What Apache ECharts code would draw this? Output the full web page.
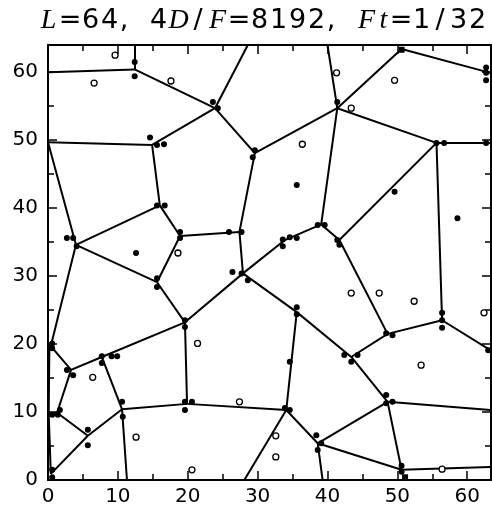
<!DOCTYPE html>
<html>
<head>
<meta charset="utf-8">
<script src="https://cdn.jsdelivr.net/npm/echarts@6/dist/echarts.min.js"></script>
<style>
  html, body { margin: 0; padding: 0; background: #fff; }
  #main { width: 492px; height: 508px; }
</style>
</head>
<body>
<div id="main"></div>
<script>
// title text
var titleText = 'L=64, 4D/F=8192, Ft=1/32';

// tick labels
var xTicks = [0, 10, 20, 30, 40, 50, 60];
var yTicks = [0, 10, 20, 30, 40, 50, 60];

// network vertices (x, y)
var vertices = {
  A: [0.1, 60.0], B: [12.4, 60.4], Btop: [12.4, 64], C: [23.9, 54.7], Ctop: [28.6, 64],
  D: [29.6, 48.1], E: [14.9, 49.3], F: [0, 49.7], G: [4.0, 34.6], H: [16.0, 40.4],
  I: [18.9, 35.9], J: [27.4, 36.5], K: [15.6, 29.1], M: [19.6, 23.2], N: [27.9, 30.4],
  O: [19.9, 11.2], P: [7.7, 18.1], Q: [3.3, 16.2], R: [0.4, 19.7], Rl: [0.2, 20.2],
  S: [1.3, 9.9], Sl: [0.1, 9.7], T: [5.7, 6.5], U: [0.4, 0.9], V: [10.6, 10.4],
  Vb: [11.3, 0], W: [34.1, 10.3], Wb: [28.1, 0], X: [35.6, 24.7], Y: [43.4, 18.1],
  Z: [48.6, 21.5], AA: [56.4, 23.5], AAr: [63.3, 19.1], AB: [55.6, 49.6], ABr: [63.3, 49.6],
  AC: [41.4, 54.7], AD: [50.6, 63.4], ADr: [63.3, 59.9], AE: [40.0, 64], AF: [39.1, 37.6],
  AG: [41.7, 35.3], AH: [33.9, 35.3], AI: [38.6, 5.4], AIb: [39.3, 0], AJ: [48.6, 11.5],
  AJr: [63.3, 10.3], AK: [50.6, 1.5], AKr: [63.3, 1.9]
};

// walls between vertices
var edges = [
  ['A','B'], ['B','Btop'], ['B','C'], ['C','Ctop'], ['C','D'], ['C','E'], ['F','E'],
  ['F','G'], ['E','H'], ['H','G'], ['H','I'], ['I','J'], ['D','J'], ['I','K'], ['G','K'],
  ['K','M'], ['M','N'], ['N','J'], ['M','O'], ['M','P'], ['P','Q'], ['Q','R'], ['R','G'],
  ['Q','S'], ['S','Sl'], ['Rl','Sl'], ['Sl','U'], ['S','T'], ['T','U'], ['T','V'], ['V','P'],
  ['V','O'], ['V','Vb'], ['O','W'], ['W','X'], ['X','N'], ['X','Y'], ['Y','Z'], ['Z','AA'],
  ['AA','AAr'], ['AA','AB'], ['AB','ABr'], ['AB','AC'], ['AC','AD'], ['AD','ADr'],
  ['AC','AE'], ['AC','D'], ['AC','AF'], ['AB','AG'], ['AF','AH'], ['AH','N'], ['AG','Z'],
  ['AF','AG'], ['W','AI'], ['AI','AJ'], ['AJ','Y'], ['AJ','AK'], ['AJ','AJr'], ['AI','AK'],
  ['AI','AIb'], ['AK','AKr'], ['W','Wb']
];

// filled dots
var filledDots = [
  [12.4,61.5],[12.4,59.4],[23.6,55.6],[24.3,54.7],[29.6,48.5],[29.3,47.5],
  [14.6,50.4],[15.6,49.3],[16.6,49.4],[15.6,40.4],[16.7,40.4],[18.9,36.5],[18.9,35.6],
  [25.9,36.5],[27.7,36.5],[2.7,35.6],[3.6,35.6],[4.1,34.4],[15.6,29.7],[15.6,28.4],
  [19.6,23.5],[19.6,22.5],[26.4,30.6],[27.7,30.4],[28.6,29.4],[33.6,35.4],[33.6,34.4],
  [34.6,35.7],[35.6,35.6],[38.6,37.5],[39.6,37.5],[41.4,35.3],[41.7,34.6],[41.4,55.6],
  [55.6,49.6],[56.7,49.6],[62.7,60.7],[62.7,59.9],[62.7,58.8],[62.7,49.6],[49.6,42.4],
  [35.6,43.4],[58.6,38.5],[12.6,33.4],[35.6,25.4],[35.6,24.4],[42.4,18.4],[43.4,17.4],
  [44.3,18.4],[48.4,21.6],[49.3,21.3],[56.4,24.6],[56.4,23.5],[56.4,22.4],[63.0,19.1],
  [34.6,17.4],[33.9,10.6],[34.6,10.3],[38.4,6.6],[39.1,5.4],[38.6,4.4],[48.4,12.5],
  [48.4,11.3],[49.3,11.5],[50.6,2.1],[50.6,1.2],[19.6,11.5],[20.6,11.5],[19.6,10.3],
  [10.6,11.5],[10.7,9.3],[7.7,18.2],[9.1,18.2],[9.9,18.2],[7.7,17.2],[2.7,16.2],
  [3.6,15.4],[0.6,20.1],[0.6,19.4],[0.6,9.6],[1.4,9.6],[1.7,10.3],[5.7,7.4],[5.7,5.1],
  [0.6,1.5],[0.6,0.4]
];

// small squares
var squareDots = [[50.6,63.3],[51.1,0.4]];

// open circles
var openDots = [
  [6.6,58.4],[9.6,62.5],[17.6,58.7],[41.3,59.9],[49.6,58.8],[43.4,54.7],[36.4,49.4],
  [18.6,33.4],[21.4,20.1],[6.4,15.1],[12.6,6.3],[20.6,1.5],[27.4,11.5],[43.4,27.5],
  [47.4,27.5],[52.4,26.3],[53.4,16.9],[32.6,6.5],[32.6,3.4],[62.4,24.6],[56.4,1.6]
];

// build title rich text, one token per glyph
var charStyle = function(ch){
  if (/[0-9]/.test(ch)) return 'd';
  if (ch == 't') return 'tt';
  if (/[A-Za-z]/.test(ch)) return 'it';
  if (ch == '=') return 'eq';
  if (ch == ',') return 'cm';
  if (ch == '/') return 'sl';
  return 'sp';
};
var titleRich = titleText.split('').map(function(ch){
  return '{' + charStyle(ch) + '|' + ch + '}';
}).join('');

var edgeData = edges.map(function(e){
  return { coords: [vertices[e[0]], vertices[e[1]]] };
});

var axisCommon = function(pos, showLabel, isX){
  return {
    type: 'value',
    position: pos,
    min: 0,
    max: isX ? 63.4 : 64,
    interval: 10,
    axisLine: { show: true, onZero: false, lineStyle: { color: '#000', width: 2 } },
    axisTick: { show: true, inside: true, length: 9, lineStyle: { color: '#000', width: 1.5 } },
    minorTick: { show: true, splitNumber: 2, length: 6, lineStyle: { color: '#000', width: 1.5 } },
    splitLine: { show: false },
    axisLabel: {
      show: showLabel,
      showMaxLabel: false,
      margin: isX ? 7 : 10,
      color: '#000',
      fontFamily: 'DejaVu Sans',
      fontSize: 20
    }
  };
};

// one rich style per glyph class
var glyph = function(family, size, width, italic){
  return {
    fontFamily: family,
    fontSize: size,
    fontWeight: 'normal',
    fontStyle: italic ? 'italic' : 'normal',
    width: width,
    align: 'center',
    color: '#000',
    lineHeight: 30
  };
};

var chart = echarts.init(document.getElementById('main'), null, { renderer: 'canvas' });
var option = {
  animation: false,
  backgroundColor: '#fff',
  title: {
    text: titleRich,
    left: 38,
    top: 6,
    padding: 0,
    textStyle: {
      fontWeight: 'normal',
      rich: {
        d:  glyph('DejaVu Sans', 27, 19, false),
        eq: glyph('DejaVu Sans', 27, 22, false),
        it: glyph('Liberation Serif', 28, 21, true),
        tt: glyph('Liberation Serif', 28, 13, true),
        cm: glyph('DejaVu Sans', 27, 10, false),
        sl: glyph('DejaVu Sans', 27, 18, false),
        sp: glyph('DejaVu Sans', 27, 20, false)
      }
    }
  },
  grid: { left: 48, right: 1, top: 45, bottom: 28, containLabel: false },
  xAxis: [
    axisCommon('bottom', true, true),
    axisCommon('top', false, true)
  ],
  yAxis: [
    axisCommon('left', true, false),
    axisCommon('right', false, false)
  ],
  series: [
    {
      type: 'lines',
      coordinateSystem: 'cartesian2d',
      polyline: false,
      silent: true,
      lineStyle: { color: '#000', width: 2, opacity: 1 },
      data: edgeData
    },
    {
      type: 'scatter',
      symbol: 'circle',
      symbolSize: 6,
      silent: true,
      itemStyle: { color: '#000', opacity: 1 },
      data: filledDots
    },
    {
      type: 'scatter',
      symbol: 'rect',
      symbolSize: 6,
      silent: true,
      itemStyle: { color: '#000', opacity: 1 },
      data: squareDots
    },
    {
      type: 'scatter',
      symbol: 'circle',
      symbolSize: 6,
      silent: true,
      itemStyle: { color: '#fff', borderColor: '#000', borderWidth: 1.3, opacity: 1 },
      data: openDots
    }
  ]
};
chart.setOption(option);
</script>
</body>
</html>
